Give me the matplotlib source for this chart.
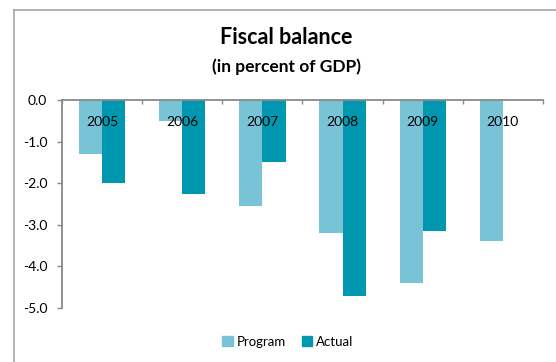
import numpy as np
import matplotlib
matplotlib.use('Agg')
import matplotlib.pyplot as plt
from matplotlib.lines import Line2D
from matplotlib.patches import Patch

plt.rcParams['font.family'] = ['Lato', 'DejaVu Sans']

years = ['2005', '2006', '2007', '2008', '2009', '2010']
program = [-1.3, -0.5, -2.55, -3.2, -4.4, -3.4]
actual = [-2.0, -2.25, -1.5, -4.7, -3.15, np.nan]

c_prog = '#78c3d6'
c_act = '#0098b0'
axis_col = '#898989'

fig = plt.figure(figsize=(5.56, 3.62), dpi=100)
ax = fig.add_axes([62/556, 1 - 308/362, (543 - 62)/556, (308 - 100)/362])

x = np.arange(len(years))
w = 0.29
ax.bar(x - w/2, program, w, color=c_prog, label='Program')
ax.bar(x + w/2, actual, w, color=c_act, label='Actual')

ax.set_xlim(-0.5, len(years) - 0.5)
ax.set_ylim(-5, 0)
ax.set_yticks(np.arange(-5, 0.1, 1))
ax.set_yticklabels(['%.1f' % v for v in np.arange(-5, 0.1, 1)], fontsize=10)
ax.tick_params(axis='y', direction='out', length=3.6, width=1, color=axis_col, pad=7)

# category ticks sit on the top (zero) line, pointing down
ax.xaxis.tick_top()
ax.set_xticks(np.arange(-0.5, len(years), 1))
ax.set_xticklabels([])
ax.tick_params(axis='x', direction='in', length=3, width=1, color=axis_col)
for i, yr in enumerate(years):
    ax.text(i, -0.53, yr, ha='center', va='center', fontsize=10)

for s in ['right', 'bottom']:
    ax.spines[s].set_visible(False)
for s in ['left', 'top']:
    ax.spines[s].set_color(axis_col)
    ax.spines[s].set_linewidth(1.3)

fig.text(286/556, 1 - 38/362, 'Fiscal balance', ha='center', va='center',
         fontsize=15.5, fontweight='bold')
fig.text(286/556, 1 - 67/362, '(in percent of GDP)', ha='center', va='center',
         fontsize=12.5, fontweight='bold')

handles = [Patch(color=c_prog, label='Program'), Patch(color=c_act, label='Actual')]
fig.legend(handles=handles, loc='center', bbox_to_anchor=(288/556, 1 - 342/362),
           ncol=2, frameon=False, fontsize=9.5, handlelength=0.8, handleheight=0.8,
           handletextpad=0.3, columnspacing=1.2)

# chart frame (cropped)
fig.add_artist(Line2D([14/556, 14/556], [0, 1 - 9.5/362], transform=fig.transFigure,
                      color='#a6a6a6', lw=1.2))
fig.add_artist(Line2D([14/556, 1], [1 - 9.5/362, 1 - 9.5/362], transform=fig.transFigure,
                      color='#a6a6a6', lw=1.2))

fig.savefig('out.png', dpi=100)
